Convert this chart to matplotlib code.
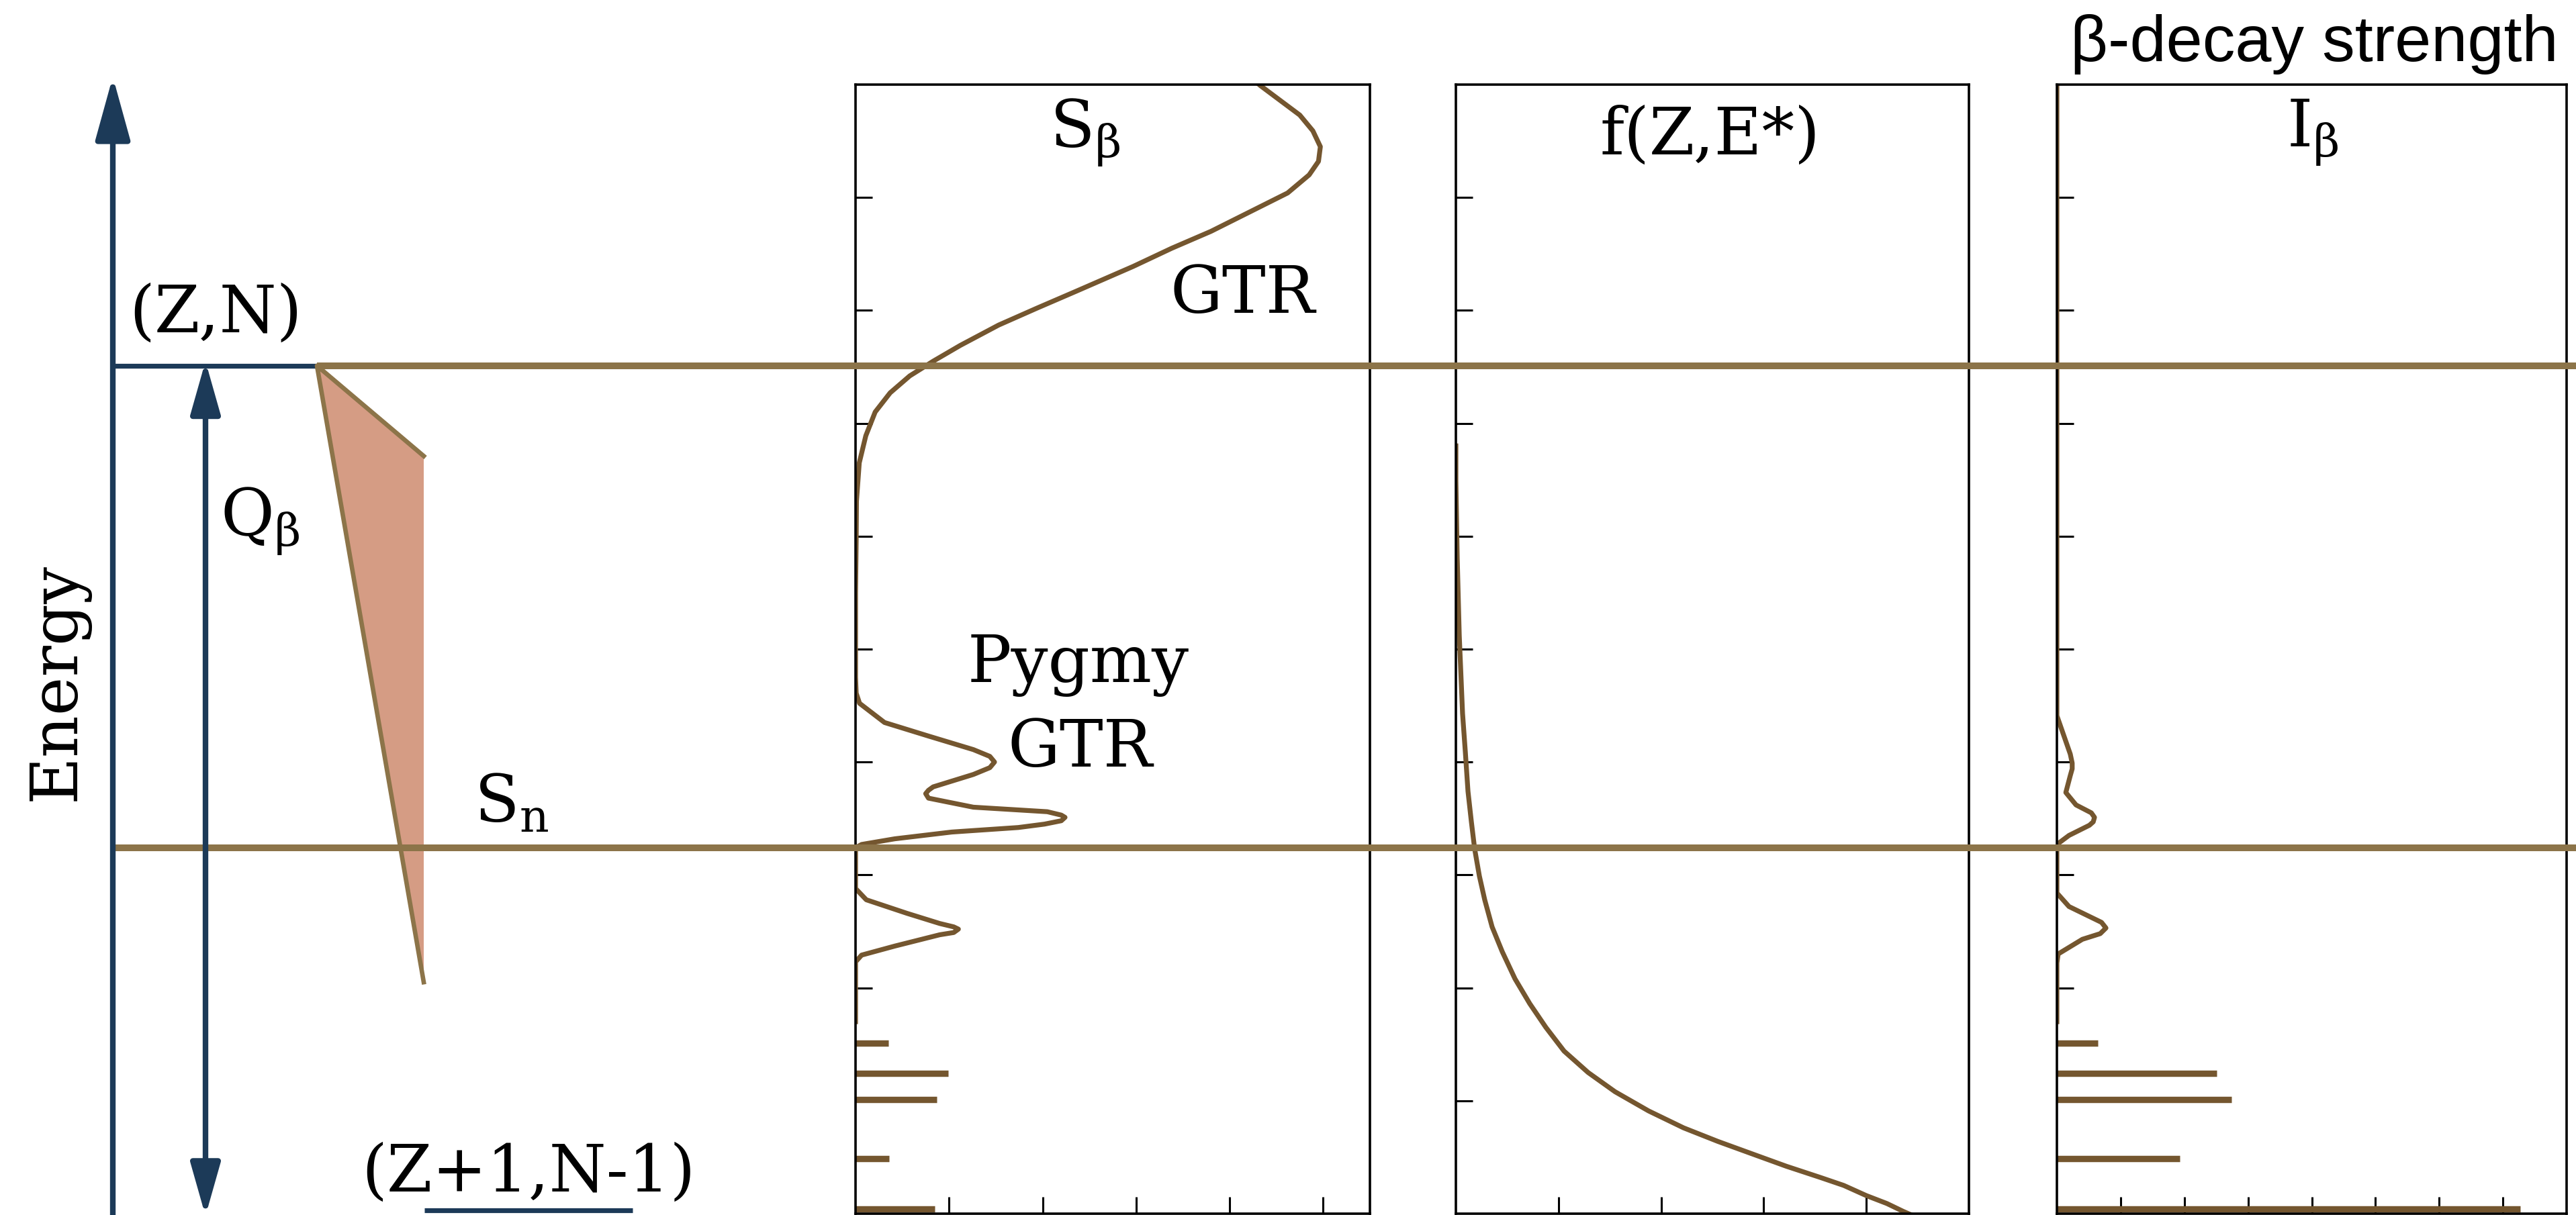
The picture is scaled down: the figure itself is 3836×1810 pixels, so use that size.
import numpy as np
import matplotlib
matplotlib.use("Agg")
from matplotlib import pyplot as plt

plt.rcParams['font.family'] = ['DejaVu Serif']
plt.rcParams['mathtext.fontset'] = 'dejavuserif'

# ---- data (energy in arbitrary units: 0 = bottom of panels, 10 = top) ----
Q_value = 7.51
Sn_value = 3.24

# S_beta strength: broad GTR + pygmy + low lying bumps
sb_E = [10.3, 9.99, 9.86, 9.73, 9.59, 9.45, 9.32, 9.20, 9.04, 8.87, 8.70, 8.55, 8.39,
        8.17, 8.02, 7.87, 7.69, 7.55, 7.42, 7.27, 7.10, 6.89, 6.65, 6.31, 5.97, 5.5,
        4.75, 4.61, 4.52, 4.35, 4.23, 4.11, 4.05, 4.00, 3.95, 3.89, 3.78, 3.75, 3.72,
        3.68, 3.60, 3.56, 3.53, 3.51, 3.48, 3.45, 3.42, 3.38, 3.32, 3.27, 3.24,
        3.0, 2.88, 2.78, 2.66, 2.57, 2.54, 2.52, 2.49, 2.47, 2.37, 2.29, 2.23, 1.7]
sb_x = [3.9, 4.33, 4.54, 4.75, 4.89, 4.97, 4.95, 4.85, 4.62, 4.21, 3.80, 3.38, 2.97,
        2.36, 1.94, 1.53, 1.12, 0.83, 0.58, 0.37, 0.21, 0.11, 0.04, 0.01, 0.007, 0.0,
        0.0, 0.007, 0.043, 0.31, 0.78, 1.26, 1.436, 1.486, 1.436, 1.26, 0.83, 0.78, 0.75,
        0.78, 1.26, 2.05, 2.20, 2.24, 2.20, 2.02, 1.74, 1.03, 0.42, 0.065, 0.0,
        0.0, 0.0, 0.115, 0.55, 0.90, 1.05, 1.10, 1.05, 0.90, 0.42, 0.065, 0.0, 0.0]
sb_bar_E = [1.51, 1.24, 1.01, 0.49, 0.04]
sb_bar_x = [0.35, 0.99, 0.87, 0.36, 0.85]

# Fermi function f(Z, E*)
f_E = [6.8, 6.49, 5.81, 5.12, 4.43, 4.09, 3.74, 3.47, 3.23, 2.99, 2.78, 2.54, 2.32,
       2.08, 1.86, 1.65, 1.44, 1.25, 1.08, 0.91, 0.76, 0.64, 0.53, 0.42, 0.32, 0.25,
       0.16, 0.09, 0.02, -0.02]
f_x = [0.0, 0.0, 0.013, 0.033, 0.065, 0.092, 0.118, 0.151, 0.183, 0.229, 0.281, 0.353,
       0.452, 0.576, 0.72, 0.877, 1.054, 1.289, 1.551, 1.878, 2.219, 2.553, 2.886,
       3.22, 3.554, 3.78, 4.0, 4.20, 4.36, 4.46]

# I_beta
ib_E = [10.0, 4.6, 4.41, 4.07, 3.99, 3.94, 3.88, 3.73, 3.62, 3.55, 3.51, 3.47, 3.44,
        3.35, 3.27, 3.1, 2.84, 2.72, 2.58, 2.53, 2.48, 2.43, 2.30, 2.22, 1.7]
ib_x = [0.0, 0.0, 0.0, 0.21, 0.24, 0.24, 0.21, 0.14, 0.30, 0.54, 0.59, 0.57, 0.51,
        0.19, 0.0, 0.0, 0.0, 0.19, 0.70, 0.77, 0.68, 0.40, 0.02, 0.0, 0.0]
ib_bar_E = [1.51, 1.24, 1.01, 0.49, 0.04]
ib_bar_x = [0.64, 2.51, 2.74, 1.93, 7.27]

panel_titles = [r'$\mathrm{S}_{\mathrm{β}}$', 'f(Z,E*)', r'$\mathrm{I}_{\mathrm{β}}$']
panel_xmax = [5.5, 5.0, 8.0]
panel_xticks = [[1, 2, 3, 4, 5], [1, 2, 3, 4], [1, 2, 3, 4, 5, 6, 7]]

# schematic (x in pixels of the figure width, y in energy)
tri_x = [472, 631, 631]
tri_E = [Q_value, 6.71, 2.05]

# colours
blue = '#1c3a58'
level_col = '#8c7449'
curve_col = '#74562f'
fill_col = '#d59c84'

W, H, dpi = 3836, 1810, 200
px_E0, px_E10 = 1808, 126       # pixel rows of E=0 and E=10
fig = plt.figure(figsize=(W / dpi, H / dpi), dpi=dpi)

panels_px = [(1274, 2040), (2168, 2932), (3063, 3822)]
axes = []
for (l, r), xmax, xt in zip(panels_px, panel_xmax, panel_xticks):
    ax = fig.add_axes([l / W, (H - px_E0) / H, (r - l) / W, (px_E0 - px_E10) / H])
    ax.set_xlim(0, xmax)
    ax.set_ylim(0, 10)
    ax.set_xticks(xt)
    ax.set_yticks(np.arange(1, 10))
    ax.tick_params(direction='in', length=9, width=1.1, labelleft=False,
                   labelbottom=False, top=False, right=False)
    for s in ax.spines.values():
        s.set_linewidth(1.3)
    axes.append(ax)

ax1, ax2, ax3 = axes
ax1.plot(sb_x, sb_E, color=curve_col, lw=2.6, solid_joinstyle='round')
ax1.hlines(sb_bar_E, 0, sb_bar_x, color=curve_col, lw=3.4)
ax2.plot(f_x, f_E, color=curve_col, lw=2.6, solid_joinstyle='round')
ax3.plot(ib_x, ib_E, color=curve_col, lw=2.6, solid_joinstyle='round')
ax3.hlines(ib_bar_E, 0, ib_bar_x, color=curve_col, lw=3.4)

# overlay axes over whole figure: x in pixels, y in energy
ax0 = fig.add_axes([0, 0, 1, 1])
ax0.patch.set_alpha(0)
ax0.set_xlim(0, W)
ax0.set_ylim((px_E0 - H) / (px_E0 - px_E10) * 10, px_E0 / (px_E0 - px_E10) * 10)
ax0.axis('off')

# energy axis arrow and Q arrow
ax0.annotate('', xy=(168, 10.07), xytext=(168, -0.05), annotation_clip=False,
             arrowprops=dict(arrowstyle='-|>,head_length=2.9,head_width=0.8',
                             color=blue, lw=3.0, shrinkA=0, shrinkB=0))
ax0.annotate('', xy=(306, Q_value + 0.04), xytext=(306, -0.02), annotation_clip=False,
             arrowprops=dict(arrowstyle='<|-|>,head_length=2.4,head_width=0.68',
                             color=blue, lw=3.0, shrinkA=0, shrinkB=0))
ax0.plot([168, 472], [Q_value, Q_value], color=blue, lw=2.6, solid_capstyle='butt')
ax0.plot([632, 942], [0.03, 0.03], color=blue, lw=2.6, solid_capstyle='butt')

# feeding triangle
ax0.fill(tri_x, tri_E, color=fill_col, lw=0)
ax0.plot([tri_x[1], tri_x[0], tri_x[2]], [tri_E[1], tri_E[0], tri_E[2]],
         color=level_col, lw=2.4)

# Q and Sn levels crossing all panels
ax0.plot([472, W], [Q_value, Q_value], color=level_col, lw=3.6, solid_capstyle='butt')
ax0.plot([168, W], [Sn_value, Sn_value], color=level_col, lw=3.6, solid_capstyle='butt')

fs = 35
ax0.text(192, 7.81, '(Z,N)', fontsize=fs, va='baseline', ha='left')
ax0.text(328, 6.0, r'$\mathrm{Q}_{\mathrm{β}}$', fontsize=fs, va='baseline', ha='left')
ax0.text(706, 3.47, r'$\mathrm{S}_{\mathrm{n}}$', fontsize=fs, va='baseline', ha='left')
ax0.text(538, 0.196, '(Z+1,N-1)', fontsize=fs, va='baseline', ha='left')
ax0.text(86, 4.71, 'Energy', fontsize=fs, rotation=90, va='center', ha='center')

ax0.text(1616, 9.44, panel_titles[0], fontsize=fs, va='baseline', ha='center')
ax0.text(1850, 7.98, 'GTR', fontsize=fs, va='baseline', ha='center')
ax0.text(1606, 4.71, 'Pygmy', fontsize=fs, va='baseline', ha='center')
ax0.text(1608, 3.96, 'GTR', fontsize=fs, va='baseline', ha='center')
ax0.text(2547, 9.38, panel_titles[1], fontsize=fs, va='baseline', ha='center')
ax0.text(3444, 9.45, panel_titles[2], fontsize=fs, va='baseline', ha='center')
ax0.text(3446, 10.21, 'β-decay strength', fontsize=35, va='baseline', ha='center',
         family=['Liberation Sans', 'DejaVu Sans'])

fig.savefig('out.png', dpi=dpi)
